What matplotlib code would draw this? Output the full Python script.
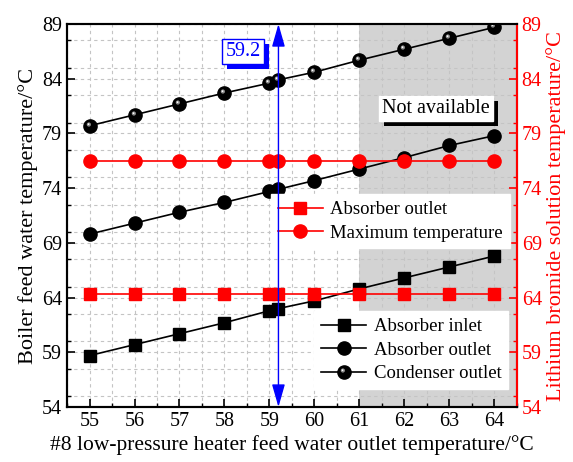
import matplotlib
matplotlib.use('Agg')
import matplotlib.pyplot as plt
import matplotlib.transforms as mtransforms
from matplotlib.patches import Rectangle
from matplotlib.path import Path
from matplotlib.ticker import MultipleLocator
from matplotlib.legend_handler import HandlerTuple

plt.rcParams['font.family'] = ['Liberation Serif', 'DejaVu Serif']

# data
x = [55, 56, 57, 58, 59, 59.2, 60, 61, 62, 63, 64]
absorber_inlet = [58.7, 59.7, 60.7, 61.7, 62.8, 63.0, 63.7, 64.8, 65.8, 66.8, 67.8]
absorber_outlet = [69.8, 70.8, 71.8, 72.7, 73.7, 73.9, 74.7, 75.75, 76.8, 77.9, 78.8]
condenser_outlet = [79.7, 80.7, 81.7, 82.7, 83.6, 83.9, 84.6, 85.7, 86.7, 87.7, 88.7]
libr_absorber_outlet = [64.3, 64.3, 64.3, 64.3, 64.3, 64.3, 64.3, 64.3, 64.3, 64.3, 64.3]
libr_max_temp = [76.5, 76.5, 76.5, 76.5, 76.5, 76.5, 76.5, 76.5, 76.5, 76.5, 76.5]

xticks = [55, 56, 57, 58, 59, 60, 61, 62, 63, 64]
yticks = [54, 59, 64, 69, 74, 79, 84, 89]
marked_x = 59.2
unavailable_from = 61


def highlight(cx, cy, r):
    # small offset dot, used to fake the shaded sphere marker
    anchor = Path([(1, 0)], [Path.MOVETO])
    return Path.make_compound_path(anchor, Path.circle((cx, cy), r))


fig = plt.figure(figsize=(5.73, 4.62), dpi=100)
ax = fig.add_axes([0.117, 0.119, 0.785, 0.829])
ax2 = ax.twinx()

ax.axvspan(unavailable_from, 64.5, color='#d3d3d3', lw=0, zorder=0)

ms = 9.5
l_in, = ax.plot(x, absorber_inlet, '-s', color='black', ms=8.5, lw=1.2, label='Absorber inlet')
l_out, = ax.plot(x, absorber_outlet, '-o', color='black', ms=ms, lw=1.2, label='Absorber outlet')
l_cond, = ax.plot(x, condenser_outlet, '-o', color='black', ms=ms, lw=1.2, label='Condenser outlet')
h1, = ax.plot(x, condenser_outlet, ls='none', marker=highlight(-0.25, 0.3, 0.32),
              color='#8c8c8c', mew=0, ms=ms)
h2, = ax.plot(x, condenser_outlet, ls='none', marker=highlight(-0.3, 0.35, 0.13),
              color='white', mew=0, ms=ms)

r_sq, = ax2.plot(x, libr_absorber_outlet, '-s', color='red', ms=8.5, lw=1.2, label='Absorber outlet')
r_ci, = ax2.plot(x, libr_max_temp, '-o', color='red', ms=ms, lw=1.2, label='Maximum temperature')

for a in (ax, ax2):
    a.set_xlim(54.5, 64.5)
    a.set_ylim(54, 89)
    a.set_yticks(yticks)
    a.yaxis.set_minor_locator(MultipleLocator(2.5))

ax.set_xticks(xticks)
ax.xaxis.set_minor_locator(MultipleLocator(0.5))
ax.grid(True, which='both', ls=(0, (3, 3)), color='#c4c4c4', lw=0.8, zorder=1)
ax.set_axisbelow(True)

ax.tick_params(axis='both', which='both', direction='in', labelsize=14.5, top=False)
ax.tick_params(which='major', length=6, width=1.2)
ax.tick_params(which='minor', length=3, width=1.0)
ax2.tick_params(axis='y', which='both', direction='in', colors='red', labelsize=14.5)
ax2.tick_params(which='major', length=6, width=1.2)
ax2.tick_params(which='minor', length=3, width=1.0)

for s in ax.spines.values():
    s.set_linewidth(1.5)
ax.spines['top'].set_color('#333333')
for s in ax2.spines.values():
    s.set_linewidth(1.5)
ax2.spines['right'].set_color('red')

ax.set_xlabel('#8 low-pressure heater feed water outlet temperature/\u00b0C', fontsize=15.5, labelpad=3)
ax.set_ylabel('Boiler feed water temperature/\u00b0C', fontsize=16, labelpad=3)
ax2.set_ylabel('Lithium bromide solution temperature/\u00b0C', fontsize=16, color='red', labelpad=3)

# blue marker line at 59.2
ax2.annotate('', xy=(marked_x, 89), xytext=(marked_x, 54),
             arrowprops=dict(arrowstyle='<|-|>,head_length=0.7,head_width=0.2', color='blue',
                             lw=1.0, shrinkA=0, shrinkB=0, mutation_scale=20), zorder=6)

boxes = []


def shadow_text(a, tx, ty, s, color, edge, shade):
    t = a.text(tx, ty, s, fontsize=14.5, color=color, ha='center', va='center',
               bbox=dict(boxstyle='square,pad=0.15', fc='white', ec=edge, lw=1.0), zorder=8)
    boxes.append((a, t, shade))


shadow_text(ax2, 58.41, 86.5, '59.2', 'blue', 'blue', 'blue')
shadow_text(ax2, 62.71, 81.3, 'Not available', 'black', 'white', 'black')

leg_kw = dict(fontsize=13.5, frameon=True, fancybox=False, edgecolor='white', framealpha=1,
              handlelength=2.4, labelspacing=0.35, borderpad=0.35, handletextpad=0.4,
              borderaxespad=0)
leg1 = ax2.legend(handles=[r_sq, r_ci], loc='upper right', bbox_to_anchor=(0.984, 0.555), **leg_kw)
leg2 = ax2.legend(handles=[l_in, l_out, (l_cond, h1, h2)],
                  labels=['Absorber inlet', 'Absorber outlet', 'Condenser outlet'],
                  handler_map={tuple: HandlerTuple(ndivide=1, pad=0)},
                  loc='lower right', bbox_to_anchor=(0.98, 0.047), **leg_kw)
ax2.add_artist(leg1)

# drop shadows behind the two boxed notes
fig.canvas.draw()
for a, t, shade in boxes:
    bb = t.get_bbox_patch().get_window_extent()
    sh = Rectangle((bb.x0 + 5, bb.y0 - 5), bb.width, bb.height, fc=shade, ec='none',
                   transform=mtransforms.IdentityTransform(), zorder=7)
    a.add_artist(sh)

fig.savefig('out.png', dpi=100)
